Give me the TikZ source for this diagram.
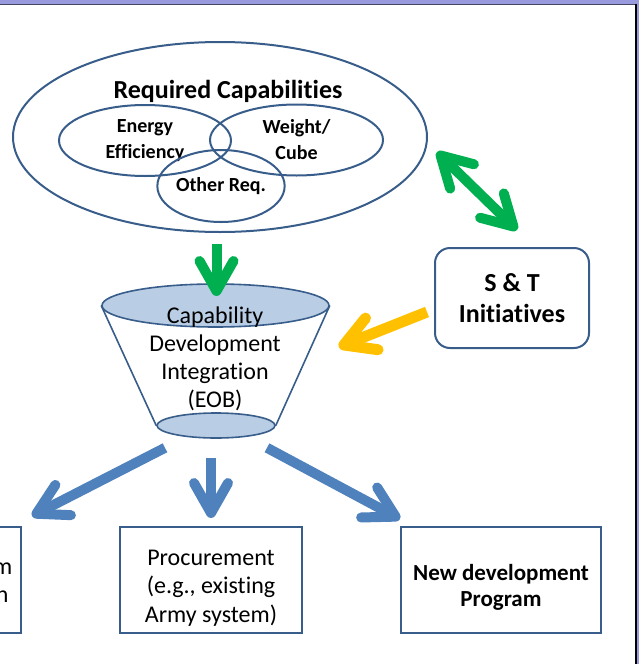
\documentclass[tikz,border=0pt]{standalone}
\usepackage{fontspec}
\setmainfont{Carlito}[Ligatures=CommonOff]
\usetikzlibrary{shapes.geometric, arrows.meta, positioning, calc}
\definecolor{slateblue}{RGB}{56, 93, 138}
\definecolor{funnelfill}{RGB}{185, 205, 229}
\definecolor{arrowgreen}{RGB}{0, 176, 80}
\definecolor{arrowamber}{RGB}{255, 192, 0}
\definecolor{arrowblue}{RGB}{79, 129, 189}
\definecolor{framelav}{RGB}{153, 153, 221}
\definecolor{framedark}{RGB}{70, 70, 100}

\begin{document}
\begin{tikzpicture}[
    x=1pt, y=-1pt,
    node distance=97pt,
    every node/.style={align=center, text=black},
    barb/.tip={Straight Barb[length=30pt, width=34pt, round]},
    venn/.style={ellipse, draw=slateblue, line width=2pt, inner sep=0pt, font=\bfseries\fontsize{20}{26}\selectfont},
    funcap/.style={ellipse, draw=slateblue, fill=funnelfill, line width=1.6pt, inner sep=0pt},
    optbox/.style={draw=slateblue, line width=2pt, minimum width=182pt, minimum height=106pt, inner sep=4pt},
    boxtext/.style={font=\fontsize{24}{28.5}\selectfont},
    fatarr/.style={line width=10pt, -barb},
    dblarr/.style={line width=10pt, barb-barb}
]
\useasboundingbox (0,0) rectangle (639,664);

% Slide frame
\fill[framelav] (0,0) rectangle (639,3.5);
\draw[framedark, line width=1.2pt] (0,4.2) -- (637,4.2);
\draw[black, line width=2.2pt] (636,3.5) -- (636,664);
\fill[framelav] (637.2,0) rectangle (639,664);

% Required capabilities
\node[venn, minimum width=414pt, minimum height=190pt] (req) at (220,137) {};
\node[font=\bfseries\fontsize{26}{31}\selectfont] (reqtitle) at (228,91) {Required Capabilities};
\node[venn, minimum width=172pt, minimum height=71pt] (energy) at (145,140.5) {Energy\\Efficiency};
\node[venn, minimum width=173pt, minimum height=71pt] (weight) at (296.5,140) {Weight/\\Cube};
\node[venn, minimum width=127pt, minimum height=72pt] (other) at (221,186) {Other Req.};

% Funnel
\node[funcap, minimum width=227pt, minimum height=43pt] (funtop) at (215.5,305.5) {};
\node[funcap, minimum width=118pt, minimum height=25pt] (funbot) at (216,425.5) {};
\draw[slateblue, line width=1.6pt] (funtop.west) -- (funbot.west) (funtop.east) -- (funbot.east);
\node[font=\fontsize{24}{28}\selectfont] (cdi) at (215,359) {Capability\\Development\\Integration\\(EOB)};

% S&T box
\node[draw=slateblue, line width=2pt, rounded corners=15pt, minimum width=154pt, minimum height=100pt,
      font=\bfseries\fontsize{26}{31}\selectfont] (st) at (512,298) {S \& T\\Initiatives};

% Outcome boxes
\node[optbox, label={[boxtext, yshift=-8pt]center:{Procurement\\(e.g., existing\\Army system)}}] (midbox) at (211,580) {};
\node[optbox, left=of midbox, label={[boxtext, xshift=4pt]center:{Upgrade system\\or modification}}] (leftbox) {};
\node[optbox, right=of midbox, minimum width=200pt,
      label={[boxtext, yshift=-7pt, font=\bfseries\fontsize{23}{26}\selectfont]center:{New development\\Program}}] (newbox) {};

% Arrows
\draw[fatarr, arrowgreen] ($(req.south)+(-3.5,11)$) -- ($(funtop.center)+(1,-9.5)$);
\draw[dblarr, arrowgreen] ($(req.east)+(9,15)$) -- ($(st.north)+(5,-17)$);
\draw[fatarr, arrowamber, line width=11pt] ($(st.west)+(-7,14)$) -- ($(funtop.east)+(9,41.5)$);
\draw[fatarr, arrowblue] ($(funbot.south)+(-51,9)$) -- ($(leftbox.north east)+(10,-10)$);
\draw[fatarr, arrowblue] ($(funbot.south)+(-5,19)$) -- ($(midbox.north)+(0,-8)$);
\draw[fatarr, arrowblue] ($(funbot.south)+(51,9)$) -- ($(newbox.north west)+(0,-7)$);

\end{tikzpicture}
\end{document}
